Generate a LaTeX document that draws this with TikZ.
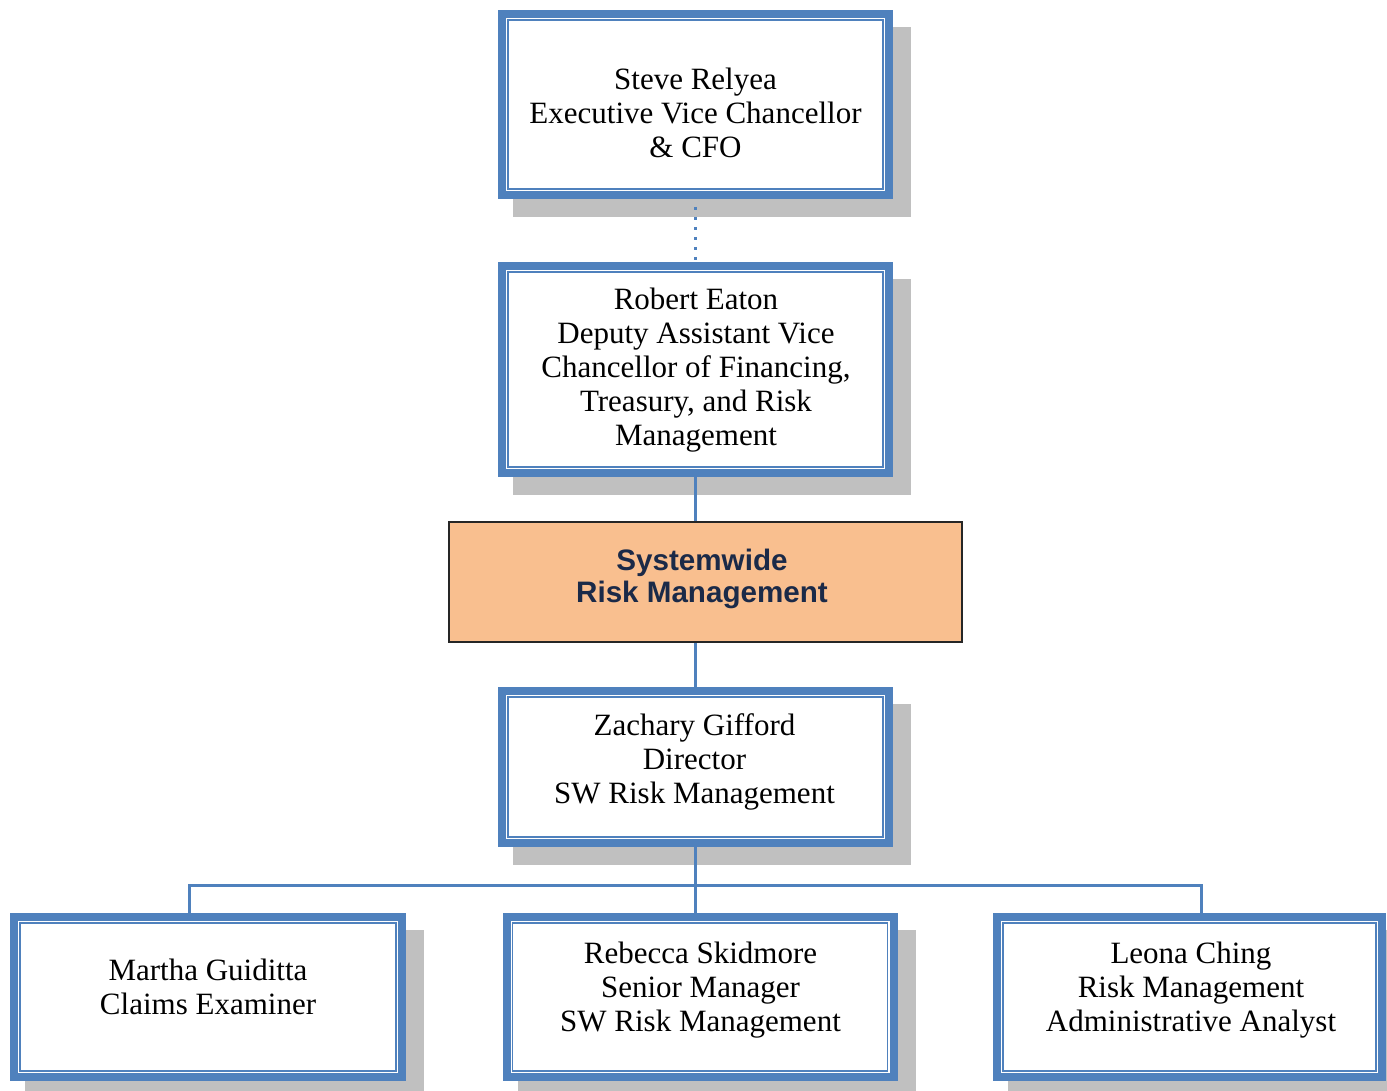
\documentclass[tikz,border=0pt]{standalone}
\usepackage{fontspec}
\setmainfont{Liberation Serif}
\newfontfamily\arialfont{Liberation Sans}
\usetikzlibrary{backgrounds}
\definecolor{boxblue}{HTML}{4F81BD}
\definecolor{shadowgray}{HTML}{C0C0C0}
\definecolor{peach}{HTML}{F9BF8F}
\definecolor{navytext}{HTML}{1B2A48}
\definecolor{darkedge}{HTML}{262626}
\tikzset{
  bluebox/.style={draw=boxblue, line width=4pt, fill=white, minimum width=193.5pt},
  innerline/.style={draw=boxblue, line width=0.75pt},
  boxtext/.style={align=center, inner sep=0pt, text=black, font=\fontsize{15.5}{17}\selectfont},
  orangebox/.style={draw=darkedge, line width=1pt, fill=peach, minimum width=256.5pt, minimum height=60pt},
  orangetext/.style={align=center, inner sep=0pt, text=navytext, font=\arialfont\bfseries\fontsize{14.8}{16}\selectfont},
  connector/.style={draw=boxblue, line width=1.5pt},
  dotconn/.style={draw=boxblue, line width=1.6pt, dash pattern=on 1.4pt off 3.6pt},
  boxshadow/.style={fill=shadowgray}
}
\begin{document}
\begin{tikzpicture}[x=0.5pt, y=-0.5pt]
\clip (0,0) rectangle (1387,1091);

% boxes
\node[bluebox, minimum height=90.5pt] (a) at (695.5,104.5) {};
\node[bluebox, minimum height=103.5pt] (b) at (695.5,369.5) {};
\node[orangebox] (c) at (705.5,582) {};
\node[bluebox, minimum height=76pt] (d) at (695.5,767) {};
\node[bluebox, minimum width=194pt, minimum height=80pt] (e) at (208,997) {};
\node[bluebox, minimum height=80pt] (f) at (700,997) {};
\node[bluebox, minimum width=192.5pt, minimum height=80pt] (g) at (1189.5,997) {};

% inner thin frames
\foreach \n in {a,b,d,e,f,g}{
  \draw[innerline] ([shift={(10,10)}]\n.north west) rectangle ([shift={(-10,-10)}]\n.south east);
}

% shadows
\begin{scope}[on background layer]
\fill[white] (0,0) rectangle (1387,1091);
\foreach \n in {a,b,d,e,f,g}{
  \fill[boxshadow] ([shift={(15,17)}]\n.north west) rectangle ([shift={(18,18)}]\n.south east);
}
\end{scope}

% texts
\node[boxtext] (ta) at (695.5,113) {Steve Relyea\\Executive Vice Chancellor\\\& CFO};
\node[boxtext] (tb) at (696,370) {Robert Eaton\\Deputy Assistant Vice\\Chancellor of Financing,\\Treasury, and Risk\\Management};
\node[orangetext] (tc) at (702,579) {Systemwide\\Risk Management};
\node[boxtext] (td) at (694.5,762) {Zachary Gifford\\Director\\SW Risk Management};
\node[boxtext] (te) at (208,987) {Martha Guiditta\\Claims Examiner};
\node[boxtext] (tf) at (700.5,990) {Rebecca Skidmore\\Senior Manager\\SW Risk Management};
\node[boxtext] (tg) at (1191,990) {Leona Ching\\Risk Management\\Administrative Analyst};

% connectors
\coordinate (hl) at (189,885);
\coordinate (hr) at (1201,885);
\draw[dotconn] ([yshift=-4]a.south) -- (a.south |- b.north);
\draw[connector] (b.south) -- (b.south |- c.north);
\draw[connector] (b.south |- c.south) -- (d.north);
\draw[connector] (d.south) -- (d.south |- f.north);
\draw[connector, line join=miter] (e.north -| hl) -- (hl) -- (hr) -- (g.north -| hr);
\end{tikzpicture}
\end{document}
